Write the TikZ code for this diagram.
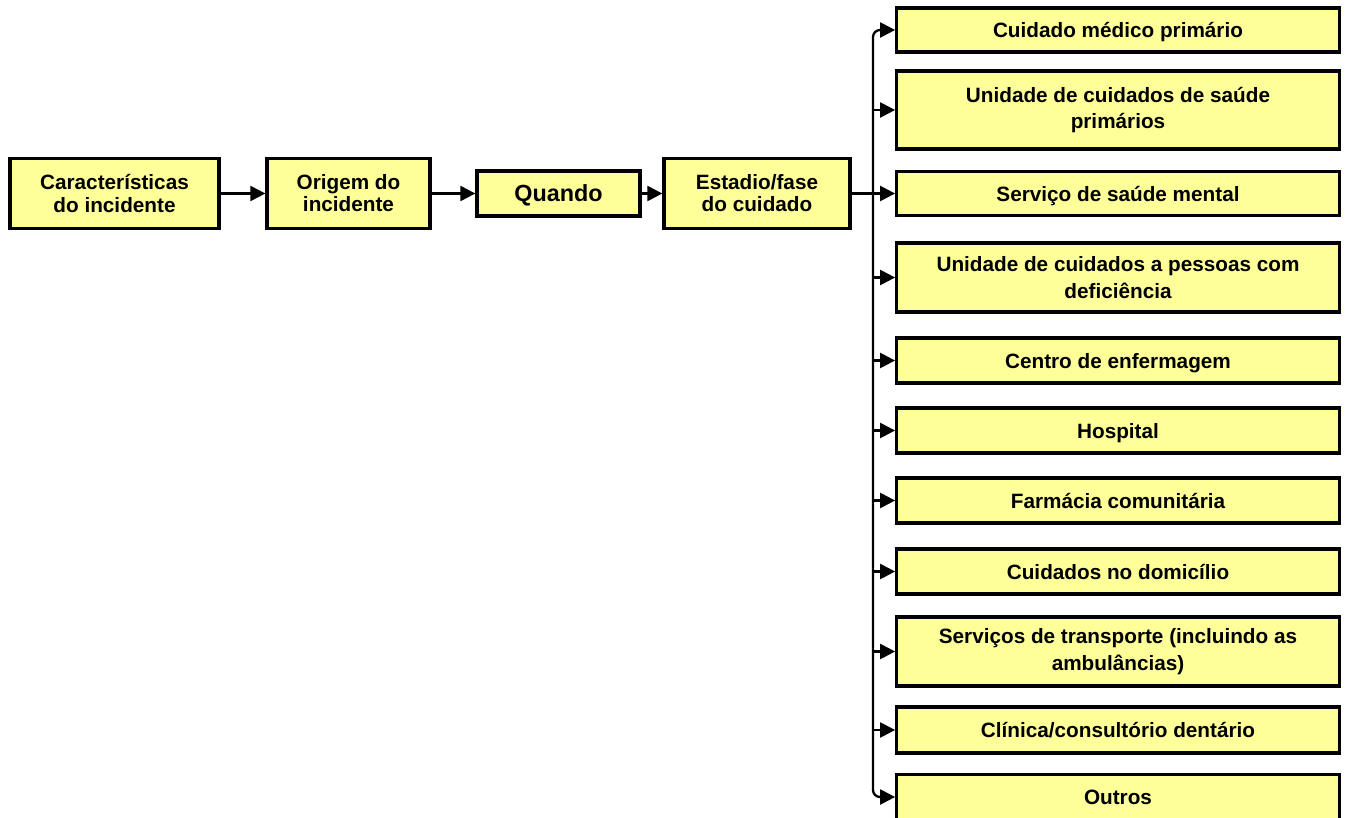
\documentclass[tikz,border=0pt]{standalone}
\usepackage{fontspec}
\setmainfont{Liberation Sans}
\usetikzlibrary{positioning, arrows.meta, shadows}
\definecolor{caixacor}{RGB}{255,255,153}
\begin{document}
\begin{tikzpicture}[x=0.02cm, y=-0.02cm,
    caixa/.style={draw, line width=1.9pt, fill=caixacor, align=center, inner sep=2pt,
        drop shadow={shadow xshift=0.035cm, shadow yshift=-0.035cm, fill=black!45, opacity=1}},
    esq/.style={caixa, font=\fontsize{11.8}{12.6}\selectfont\bfseries},
    dir/.style={caixa, minimum width=8.85cm, font=\fontsize{11.8}{15}\selectfont\bfseries},
    linha/.style={text depth=0pt},
    seta/.style={-{Triangle[length=0.3cm, width=0.3cm]}, line width=1.3pt}]
    \useasboundingbox (0,0) rectangle (1347,818);

    % Cadeia principal
    \node[esq, minimum width=4.18cm, minimum height=1.4cm] (carac) at (114.5,193.5) {Características\\do incidente};
    \node[esq, minimum width=3.26cm, minimum height=1.4cm] (origem) at (348.5,193.5) {Origem do\\incidente};
    \node[caixa, linha, minimum width=3.26cm, minimum height=0.9cm, font=\fontsize{13.3}{15}\selectfont\bfseries] (quando) at (558.5,193.5) {Quando};
    \node[esq, minimum width=3.72cm, minimum height=1.4cm] (estadio) at (757,193.5) {Estadio/fase\\do cuidado};

    % Locais do cuidado
    \node[dir, linha, minimum height=0.88cm] (r1) at (1118,30) {Cuidado médico primário};
    \node[dir, minimum height=1.56cm] (r2) at (1118,110) {Unidade de cuidados de saúde\\primários};
    \node[dir, linha, minimum height=0.88cm] (r3) at (1118,193.5) {Serviço de saúde mental};
    \node[dir, minimum height=1.38cm] (r4) at (1118,277.5) {Unidade de cuidados a pessoas com\\deficiência};
    \node[dir, linha, minimum height=0.9cm] (r5) at (1118,360.5) {Centro de enfermagem};
    \node[dir, linha, minimum height=0.9cm] (r6) at (1118,430.5) {Hospital};
    \node[dir, linha, minimum height=0.9cm] (r7) at (1118,500.5) {Farmácia comunitária};
    \node[dir, linha, minimum height=0.9cm] (r8) at (1118,571.5) {Cuidados no domicílio};
    \node[dir, minimum height=1.38cm] (r9) at (1118,651.5) {Serviços de transporte (incluindo as\\ambulâncias)};
    \node[dir, linha, minimum height=0.92cm] (r10) at (1118,730) {Clínica/consultório dentário};
    \node[dir, linha, minimum height=0.9cm] (r11) at (1118,797) {Outros};

    \coordinate (barra) at (873,400);

    % Setas
    \draw[seta] (carac) -- (origem);
    \draw[seta] (origem) -- (quando);
    \draw[seta] (quando) -- (estadio);
    \draw[seta] (estadio.east) -- (r3.west);

    \draw[{Triangle[length=0.3cm, width=0.3cm]}-{Triangle[length=0.3cm, width=0.3cm]}, line width=1.3pt, rounded corners=4pt] (r1.west) -| (barra) |- (r11.west);
    \draw[seta] (barra |- r2.west) -- (r2.west);
    \draw[seta] (barra |- r4.west) -- (r4.west);
    \draw[seta] (barra |- r5.west) -- (r5.west);
    \draw[seta] (barra |- r6.west) -- (r6.west);
    \draw[seta] (barra |- r7.west) -- (r7.west);
    \draw[seta] (barra |- r8.west) -- (r8.west);
    \draw[seta] (barra |- r9.west) -- (r9.west);
    \draw[seta] (barra |- r10.west) -- (r10.west);
\end{tikzpicture}
\end{document}
